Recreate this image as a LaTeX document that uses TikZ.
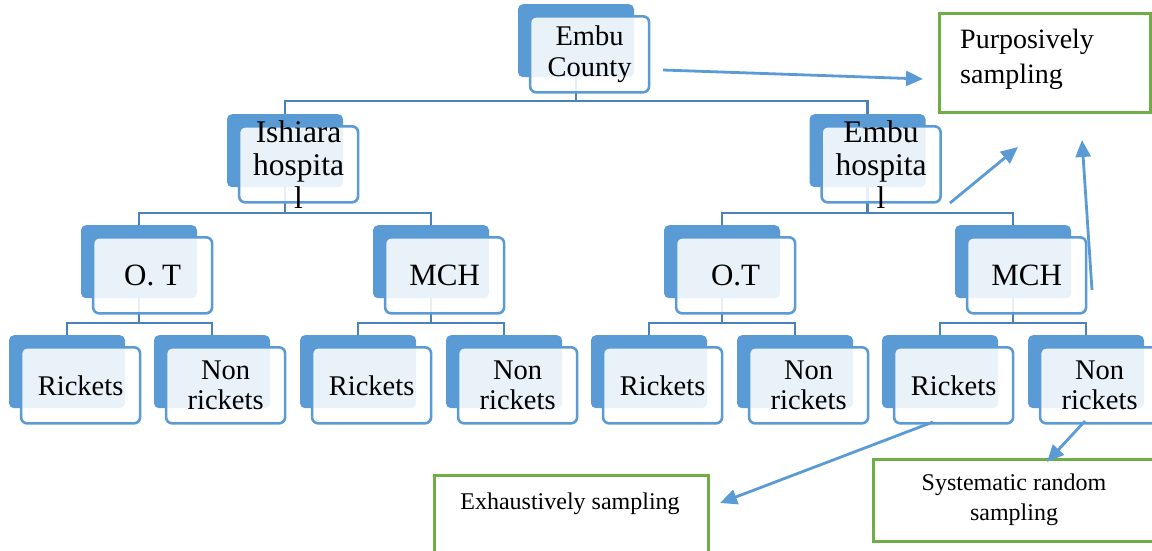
\documentclass[tikz,border=0pt]{standalone}
\usepackage{fontspec}
\setmainfont{Liberation Serif}
\usetikzlibrary{arrows.meta,backgrounds,calc}
\definecolor{nblue}{HTML}{5B9BD5}
\definecolor{cblue}{HTML}{4A82BE}
\definecolor{ngreen}{HTML}{70AD47}
\tikzset{
 backbox/.style={rectangle, rounded corners=5pt, fill=nblue, minimum width=116pt, minimum height=73pt, inner sep=0pt, anchor=north},
 frontbox/.style={rectangle, rounded corners=6pt, draw=nblue, line width=2.6pt, fill=white, fill opacity=0.87, minimum width=119pt, minimum height=76pt, inner sep=0pt, anchor=north west},
 lbl/.style={align=center, inner sep=0pt, text opacity=1},
 conn/.style={draw=cblue, line width=2.6pt},
 arr/.style={draw=nblue, line width=2.8pt, -{Triangle[length=17pt,width=15pt]}},
 gbox/.style={draw=ngreen, line width=2.8pt, fill=white, inner sep=0pt},
 gtext/.style={font=\fontsize{24}{30}\selectfont, inner sep=0pt}
}
\newcommand\orgbox[6]{%
 \node[backbox] (#1-b) at (#2,#3) {};
 \node[frontbox] (#1) at ($(#1-b.north west)+(11,11)$) {};
 \node[lbl, font=\fontsize{#4}{#5}\selectfont] (#1-t) at (#1.center) {#6};
}
\begin{document}
\begin{tikzpicture}[x=1pt,y=-1pt]
\useasboundingbox (0,0) rectangle (1152,550);
\clip (0,0) rectangle (1152,550);
% level 1
\orgbox{top}{576}{4}{28.5}{31}{Embu\\County}
% level 2
\orgbox{ish}{285}{114}{31.5}{33}{Ishiara\\hospita\\l}
\orgbox{emh}{867.5}{114}{31.5}{33}{Embu\\hospita\\l}
% level 3
\orgbox{otA}{139}{225}{31}{33}{O. T}
\orgbox{mchA}{431}{225}{31}{33}{MCH}
\orgbox{otB}{722}{225}{31}{33}{O.T}
\orgbox{mchB}{1013}{225}{31}{33}{MCH}
% level 4
\orgbox{rA}{67}{335}{28.5}{30}{Rickets}
\orgbox{nA}{212}{335}{28.5}{30}{Non\\rickets}
\orgbox{rB}{358}{335}{28.5}{30}{Rickets}
\orgbox{nB}{504}{335}{28.5}{30}{Non\\rickets}
\orgbox{rC}{649}{335}{28.5}{30}{Rickets}
\orgbox{nC}{795}{335}{28.5}{30}{Non\\rickets}
\orgbox{rD}{940}{335}{28.5}{30}{Rickets}
\orgbox{nD}{1086}{335}{28.5}{30}{Non\\rickets}
% bus levels
\coordinate (busA) at (0,101);
\coordinate (busB) at (0,213);
\coordinate (busC) at (0,323);
\begin{pgfonlayer}{background}
 \draw[conn] (top-b.center) -- (top-b.center |- busA) -| (ish-b.north);
 \draw[conn] (top-b.center |- busA) -| (emh-b.north);
 \draw[conn] (ish-b.center) -- (ish-b.center |- busB) -| (otA-b.north);
 \draw[conn] (ish-b.center |- busB) -| (mchA-b.north);
 \draw[conn] (emh-b.center) -- (emh-b.center |- busB) -| (otB-b.north);
 \draw[conn] (emh-b.center |- busB) -| (mchB-b.north);
 \draw[conn] (otA-b.center) -- (otA-b.center |- busC) -| (rA-b.north);
 \draw[conn] (otA-b.center |- busC) -| (nA-b.north);
 \draw[conn] (mchA-b.center) -- (mchA-b.center |- busC) -| (rB-b.north);
 \draw[conn] (mchA-b.center |- busC) -| (nB-b.north);
 \draw[conn] (otB-b.center) -- (otB-b.center |- busC) -| (rC-b.north);
 \draw[conn] (otB-b.center |- busC) -| (nC-b.north);
 \draw[conn] (mchB-b.center) -- (mchB-b.center |- busC) -| (rD-b.north);
 \draw[conn] (mchB-b.center |- busC) -| (nD-b.north);
\end{pgfonlayer}
% green boxes
\node[gbox, anchor=north west, minimum width=211pt, minimum height=99pt] (purp) at (938,12) {};
\node[gtext, font=\fontsize{28}{35}\selectfont, align=left, anchor=north west] (purp-t) at (960,29) {Purposively\\sampling};
\node[gbox, anchor=north west, minimum width=274pt, minimum height=100pt] (exh) at (433,474) {};
\node[gtext, anchor=base] (exh-t) at (570,509) {Exhaustively sampling};
\node[gbox, anchor=north west, minimum width=300pt, minimum height=82pt] (sys) at (872,458) {};
\node[gtext, align=center, anchor=north] (sys-t) at (1014,474) {Systematic random\\sampling};
% arrows
\coordinate (a1s) at (663,70);  \coordinate (a1e) at (923,79);
\coordinate (a2s) at (950,203); \coordinate (a2e) at (1018,147);
\coordinate (a3s) at (1092,290); \coordinate (a3e) at (1082,140);
\coordinate (a4s) at (933,422); \coordinate (a4e) at (720,503);
\coordinate (a5s) at (1085,421); \coordinate (a5e) at (1047,462);
\draw[arr] (a1s) -- (a1e);
\draw[arr] (a2s) -- (a2e);
\draw[arr] (a3s) -- (a3e);
\draw[arr] (a4s) -- (a4e);
\draw[arr] (a5s) -- (a5e);
\end{tikzpicture}
\end{document}
